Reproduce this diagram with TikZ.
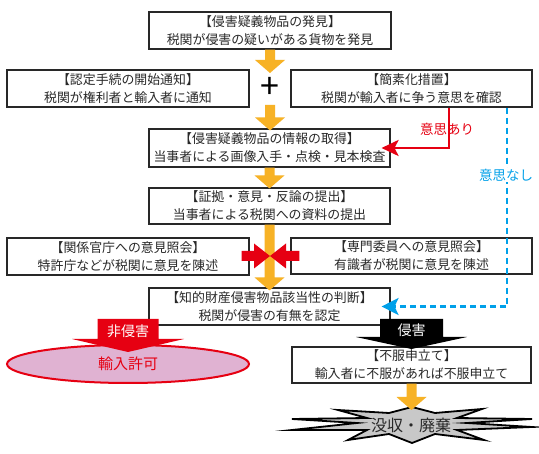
\documentclass[tikz,border=0pt]{standalone}
\usepackage{fontspec}
\newfontfamily\jp{Noto Sans CJK JP}
\usetikzlibrary{calc,arrows.meta,shapes.geometric}
\definecolor{yel}{RGB}{247,178,38}
\definecolor{myred}{RGB}{230,0,18}
\definecolor{myblue}{RGB}{0,160,233}
\definecolor{mypink}{RGB}{224,178,210}
\definecolor{txt}{RGB}{40,40,40}
\definecolor{bgray}{RGB}{200,200,200}
\newcommand\ydown[2]{\fill[yel] let \p1=(#1), \p2=(#2) in (\x1-5,\y1) -- (\x1+5,\y1) -- (\x1+5,\y2+13) -- (\x1+15,\y2+13) -- (\x1,\y2) -- (\x1-15,\y2+13) -- (\x1-5,\y2+13) -- cycle;}
\newcommand\hblock[3]{\fill[myred] let \p1=(#1), \p2=(#2) in (\x1,\y2+5) -- (\x2-#3,\y2+5) -- (\x2-#3,\y2+12.5) -- (\x2,\y2) -- (\x2-#3,\y2-12.5) -- (\x2-#3,\y2-5) -- (\x1,\y2-5) -- cycle;}
\begin{document}
\begin{tikzpicture}[x=1pt,y=-1pt,
  box/.style={draw=txt, line width=1.1pt, fill=white, align=center, text=txt, inner sep=0pt, font=\jp\fontsize{12.9}{18}\selectfont},
  lbl/.style={font=\jp\fontsize{13.5}{15}\selectfont, inner sep=1pt}]
\useasboundingbox[fill=white] (0,0) rectangle (539,454);
% boxes
\node[box, minimum width=242, minimum height=37] (b1) at (270,30.5) {【侵害疑義物品の発見】\\税関が侵害の疑いがある貨物を発見};
\node[box, minimum width=242, minimum height=37] (b2) at (128,88.5) {【認定手続の開始通知】\\税関が権利者と輸入者に通知};
\node[box, minimum width=241, minimum height=37] (b3) at (411.5,88.5) {【簡素化措置】\\税関が輸入者に争う意思を確認};
\node[box, minimum width=241, minimum height=38] (b4) at (269.5,148) {【侵害疑義物品の情報の取得】\\当事者による画像入手・点検・見本検査};
\node[box, minimum width=241, minimum height=36] (b5) at (269.5,206) {【証拠・意見・反論の提出】\\当事者による税関への資料の提出};
\node[box, minimum width=242, minimum height=37] (b6) at (128,256.5) {【関係官庁への意見照会】\\特許庁などが税関に意見を陳述};
\node[box, minimum width=241, minimum height=36] (b7) at (411.5,256) {【専門委員への意見照会】\\有識者が税関に意見を陳述};
\node[box, minimum width=241, minimum height=37] (b8) at (269.5,306.5) {【知的財産侵害物品該当性の判断】\\税関が侵害の有無を認定};
\node[box, minimum width=239, minimum height=36] (b9) at (411.5,365) {【不服申立て】\\輸入者に不服があれば不服申立て};
% plus
\node[font=\jp\fontsize{34}{34}\selectfont, text=black, inner sep=0pt] (plus) at (270,88) {+};
\coordinate (t1) at (270,73);
\coordinate (s2) at (270,105);
\coordinate (mid) at (270,256);
% yellow arrows
\ydown{b1.south}{t1}
\ydown{s2}{$(b4.north)+(0,2)$}
\ydown{$(b4.south)+(0,0)$}{$(b5.north)+(0,1)$}
\ydown{b5.south}{$(b8.north)+(0,3)$}
% red converging arrows
\hblock{$(b6.east)+(-8,0)$}{mid}{16}
\hblock{$(b7.west)+(9,0)$}{mid}{-16}
% yes / no connectors
\draw[myred, line width=2.5pt, -{Stealth[length=17pt,width=16pt,inset=4pt]}] ([xshift=37.5pt]b3.south) |- ([xshift=-9pt]b4.east);
\node[lbl, text=myred] (ari) at (447,129) {意思あり};
\draw[myblue, line width=2.5pt, dash pattern=on 6pt off 4pt, -{Stealth[length=17pt,width=17pt,inset=4pt]}] ([xshift=95.5pt]b3.south) |- ([xshift=-9pt]b8.east);
\node[lbl, text=myblue, fill=white] (nasi) at (506,175) {意思なし};
% not infringing
\node[ellipse, draw=myred, line width=2pt, fill=mypink, minimum width=242, minimum height=38, inner sep=0pt, text=myred, font=\jp\fontsize{15}{15}\selectfont] (perm) at (128,364) {輸入許可};
\fill[myred] (97.5,319) -- (158.5,319) -- (158.5,339) -- (184,339) -- (128,352) -- (72,339) -- (97.5,339) -- cycle;
\node[text=white, font=\jp\fontsize{14}{14}\selectfont, inner sep=0pt] (nh) at (128,331) {非侵害};
% infringing
\fill[black] (380,319) -- (443,319) -- (443,337) -- (467,337) -- (411.5,349) -- (356,337) -- (380,337) -- cycle;
\node[text=white, font=\jp\fontsize{14}{14}\selectfont, inner sep=0pt] (inf) at (411.5,330) {侵害};
% burst
\coordinate (bc) at (412,424);
\begin{scope}[shift={(bc)}]
\draw[black, line width=1.8pt, fill=bgray, miter limit=20]
 (0,-17) -- (23,-11) -- (70,-15) -- (45,-6) -- (120,-5) -- (55,-1) -- (120,3) -- (45,6) -- (72,16) -- (23,10) -- (0,19)
 -- (-23,10) -- (-64,16) -- (-45,6) -- (-120,6) -- (-55,-1) -- (-120,-5) -- (-45,-6) -- (-74,-14) -- (-23,-11) -- cycle;
\end{scope}
\node[text=txt, font=\jp\fontsize{16}{16}\selectfont, inner sep=0pt] (burst) at (411,425) {没収・廃棄};
\ydown{b9.south}{$(bc)+(0,-14)$}
\end{tikzpicture}
\end{document}
